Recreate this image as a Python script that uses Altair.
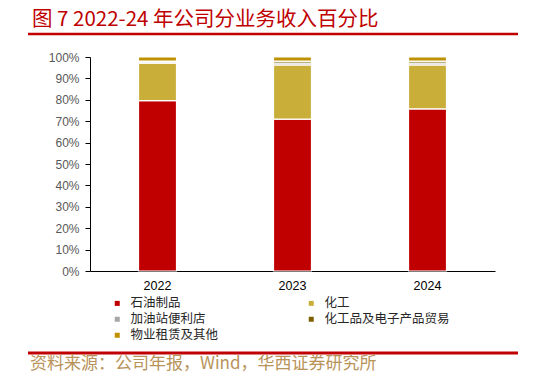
import altair as alt
import pandas as pd

years = ["2022", "2023", "2024"]
series = ["石油制品", "化工", "加油站便利店", "化工品及电子产品贸易", "物业租赁及其他"]
petroleum = [79.6, 71.0, 75.8]
chemicals = [17.5, 25.3, 20.5]
station = [0.5, 0.9, 0.9]
trading = [0.5, 0.9, 0.9]
property_other = [1.9, 1.9, 1.9]
colors = ["#C00000", "#C9AF3A", "#A6A6A6", "#7F6000", "#BF9000"]
y_ticks = [0, 10, 20, 30, 40, 50, 60, 70, 80, 90, 100]
title_text = "图 7 2022-24 年公司分业务收入百分比"
source_text = "资料来源：公司年报，Wind，华西证券研究所"

all_series = [petroleum, chemicals, station, trading, property_other]
rows = []
for i, yr in enumerate(years):
    for k, (name, vals) in enumerate(zip(series, all_series)):
        rows.append({"year": yr, "segment": name, "share": vals[i], "order": k})
df = pd.DataFrame(rows)

# legend fills column by column; reorder so it reads row by row like the reference
legend_order = [0, 2, 4, 1, 3]
legend_domain = [series[i] for i in legend_order]
legend_range = [colors[i] for i in legend_order]

bars = alt.Chart(df).mark_bar(size=38, stroke="white", strokeWidth=1.2).encode(
    x=alt.X("year:N", scale=alt.Scale(paddingInner=0, paddingOuter=0),
            axis=alt.Axis(title=None, labelAngle=0, ticks=False, domainColor="black",
                          labelColor="black", labelFontSize=12.5, labelPadding=8)),
    y=alt.Y("share:Q", stack="zero", scale=alt.Scale(domain=[0, 100], nice=False),
            axis=alt.Axis(title=None, values=y_ticks, labelExpr="datum.value + '%'",
                          tickSize=5, tickColor="black", domainColor="black", grid=False,
                          labelColor="#595959", labelFontSize=12, labelPadding=6)),
    color=alt.Color("segment:N", scale=alt.Scale(domain=legend_domain, range=legend_range),
                    legend=alt.Legend(title=None, orient="none", legendX=21, legendY=240,
                                      columns=2, columnPadding=86, rowPadding=3,
                                      symbolType="square", symbolSize=25, symbolStrokeWidth=0,
                                      labelFontSize=12.5, labelFont="Noto Sans CJK SC",
                                      labelColor="#262626", labelOffset=7, padding=0)),
    order=alt.Order("order:Q", sort="ascending"),
)

title = alt.Chart(pd.DataFrame({"t": [title_text]})).mark_text(
    align="left", baseline="middle", fontSize=20.5, color="#C00000", font="Noto Sans CJK SC"
).encode(x=alt.value(32 - 90), y=alt.value(19.5 - 57), text="t:N")

line_top = alt.Chart(pd.DataFrame({"a": [0]})).mark_rule(color="#C00000", strokeWidth=2.5).encode(
    x=alt.value(28 - 90), x2=alt.value(518 - 90), y=alt.value(34 - 57))
line_bottom = alt.Chart(pd.DataFrame({"a": [0]})).mark_rule(color="#C00000", strokeWidth=3).encode(
    x=alt.value(28 - 90), x2=alt.value(518 - 90), y=alt.value(353 - 57))

source = alt.Chart(pd.DataFrame({"t": [source_text]})).mark_text(
    align="left", baseline="middle", fontSize=17, color="#B8935A", font="Noto Sans CJK SC"
).encode(x=alt.value(30 - 90), y=alt.value(364 - 57), text="t:N")

chart = alt.layer(bars, title, line_top, line_bottom, source).properties(
    width=405, height=214,
    padding={"left": 82, "top": 49, "right": 30, "bottom": 106},
    autosize=alt.AutoSizeParams(type="none"),
).configure_view(stroke=None).configure_axis(labelFont="Liberation Sans")

chart.save("out.html", embed_options={"renderer": "svg", "actions": False})
